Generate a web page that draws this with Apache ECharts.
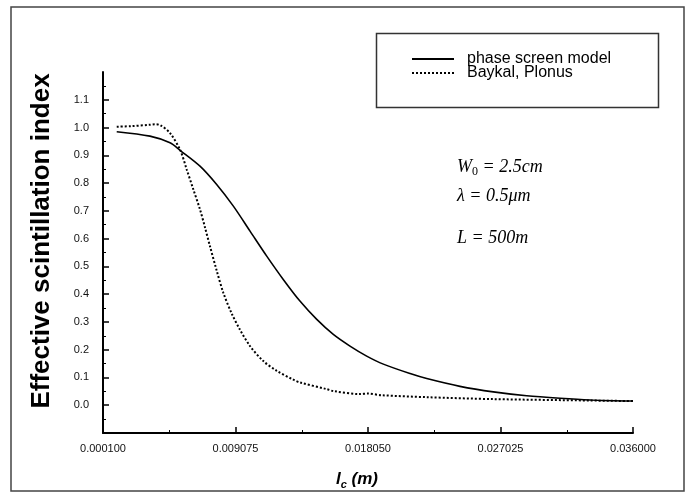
<!DOCTYPE html>
<html>
<head>
<meta charset="utf-8">
<script src="https://cdn.jsdelivr.net/npm/echarts@6/dist/echarts.min.js"></script>
<style>
  html, body { margin: 0; padding: 0; background: #fff; }
  #main { width: 691px; height: 498px; }
</style>
</head>
<body>
<div id="main"></div>
<script>
// values: [lc (m), effective scintillation index]
var phaseScreen = [
    [0.00103, 0.985], [0.00328, 0.969], [0.00464, 0.945], [0.00532, 0.918],
    [0.00667, 0.861], [0.00780, 0.795], [0.00893, 0.717], [0.01006, 0.627],
    [0.01119, 0.537], [0.01231, 0.453], [0.01344, 0.375], [0.01458, 0.309],
    [0.01570, 0.255], [0.01683, 0.213], [0.01796, 0.177], [0.01909, 0.148],
    [0.02090, 0.114], [0.02203, 0.096], [0.02428, 0.068],
    [0.02654, 0.048], [0.02880, 0.034], [0.03106, 0.025], [0.03309, 0.019],
    [0.03600, 0.015]
];
var baykalPlonus = [
    [0.00103, 1.003], [0.00200, 1.005], [0.00328, 1.010], [0.00362, 1.012],
    [0.00400, 1.008], [0.00464, 0.980], [0.00532, 0.920], [0.00577, 0.849],
    [0.00622, 0.777], [0.00667, 0.705], [0.00701, 0.640], [0.00735, 0.572],
    [0.00780, 0.485], [0.00825, 0.405], [0.00882, 0.330], [0.00938, 0.272],
    [0.01006, 0.213], [0.01096, 0.159], [0.01187, 0.124], [0.01299, 0.092],
    [0.01344, 0.082], [0.01525, 0.058], [0.01570, 0.051], [0.01751, 0.040],
    [0.01800, 0.042], [0.01900, 0.036], [0.02203, 0.029], [0.02654, 0.022],
    [0.03309, 0.017], [0.03600, 0.015]
];
var seriesNames = ['phase screen model', 'Baykal, Plonus'];
var xTickValues = [0.000100, 0.009075, 0.018050, 0.027025, 0.036000];
var yTickValues = [0.0, 0.1, 0.2, 0.3, 0.4, 0.5, 0.6, 0.7, 0.8, 0.9, 1.0, 1.1];

var xMinorTicks = [];
for (var i = 0; i < xTickValues.length - 1; i++) {
    xMinorTicks.push((xTickValues[i] + xTickValues[i + 1]) / 2);
}

var chart = echarts.init(document.getElementById('main'));

var axisLine = { show: true, onZero: false, lineStyle: { color: '#000', width: 2 } };

option = {
    animation: false,
    backgroundColor: '#fff',
    grid: { left: 103, right: 58, top: 72, bottom: 65 },
    legend: {
        orient: 'vertical',
        left: 406,
        top: 46,
        itemWidth: 42,
        itemHeight: 14,
        itemGap: -2,
        itemStyle: { opacity: 0 },
        textStyle: { fontFamily: 'Arial, Liberation Sans', fontSize: 16, lineHeight: 14, color: '#000', padding: [0, 0, 0, 8] },
        data: seriesNames
    },
    xAxis: [
        {
            type: 'value',
            min: 0.0001,
            max: 0.036,
            position: 'bottom',
            axisLine: axisLine,
            splitLine: { show: false },
            axisTick: { show: true, inside: true, length: 6, customValues: xTickValues,
                        lineStyle: { color: '#000', width: 1.5 } },
            axisLabel: {
                customValues: xTickValues,
                margin: 10,
                fontFamily: 'Arial, Liberation Sans',
                fontSize: 11,
                color: '#111',
                formatter: function (v) { return v.toFixed(6); }
            }
        },
        {
            type: 'value',
            min: 0.0001,
            max: 0.036,
            position: 'bottom',
            offset: 0,
            axisLine: { show: false, onZero: false },
            splitLine: { show: false },
            axisLabel: { show: false },
            axisTick: { show: true, inside: true, length: 3, customValues: xMinorTicks,
                        lineStyle: { color: '#000', width: 1 } }
        }
    ],
    yAxis: {
        type: 'value',
        min: -0.1,
        max: 1.2,
        interval: 0.1,
        axisLine: axisLine,
        splitLine: { show: false },
        axisTick: { show: true, inside: true, length: 6, customValues: yTickValues,
                    lineStyle: { color: '#000', width: 1.5 } },
        minorTick: { show: true, splitNumber: 2, length: 3, lineStyle: { color: '#000', width: 1 } },
        axisLabel: {
            customValues: yTickValues,
            margin: 14,
            fontFamily: 'Arial, Liberation Sans',
            fontSize: 11,
            color: '#111',
            formatter: function (v) { return v.toFixed(1); }
        }
    },
    graphic: [
        {
            type: 'rect',
            shape: { x: 11, y: 7, width: 673, height: 484 },
            style: { fill: 'none', stroke: '#444', lineWidth: 1.5 },
            silent: true
        },
        {
            type: 'rect',
            shape: { x: 376.5, y: 33.5, width: 282, height: 74 },
            style: { fill: 'none', stroke: '#333', lineWidth: 1.5 },
            silent: true
        },
        {
            type: 'text',
            x: 42,
            y: 241,
            rotation: Math.PI / 2,
            style: {
                text: 'Effective scintillation index',
                fontFamily: 'Arial, Liberation Sans',
                fontWeight: 'bold',
                fontSize: 26,
                fill: '#000',
                align: 'center',
                verticalAlign: 'middle'
            }
        },
        {
            type: 'text',
            x: 357,
            y: 479,
            style: {
                text: '{a|l}{b|c}{a| (m)}',
                align: 'center',
                verticalAlign: 'middle',
                rich: {
                    a: { fontFamily: 'Arial, Liberation Sans', fontWeight: 'bold', fontStyle: 'italic', fontSize: 17, fill: '#000' },
                    b: { fontFamily: 'Arial, Liberation Sans', fontWeight: 'bold', fontStyle: 'italic', fontSize: 11, fill: '#000', padding: [12, 0, 0, 0] }
                }
            }
        },
        {
            type: 'text',
            x: 457,
            y: 167,
            style: {
                text: '{i|W}{s|0}{i| = 2.5cm}',
                verticalAlign: 'middle',
                rich: {
                    i: { fontFamily: 'Liberation Serif, Times New Roman', fontStyle: 'italic', fontSize: 18, fill: '#000' },
                    s: { fontFamily: 'Liberation Serif, Times New Roman', fontSize: 12, fill: '#000', padding: [10, 0, 0, 0] }
                }
            }
        },
        {
            type: 'text',
            x: 457,
            y: 196,
            style: {
                text: 'λ = 0.5μm',
                verticalAlign: 'middle',
                fontFamily: 'Liberation Serif, Times New Roman',
                fontStyle: 'italic',
                fontSize: 18,
                fill: '#000'
            }
        },
        {
            type: 'text',
            x: 457,
            y: 238,
            style: {
                text: 'L = 500m',
                verticalAlign: 'middle',
                fontFamily: 'Liberation Serif, Times New Roman',
                fontStyle: 'italic',
                fontSize: 18,
                fill: '#000'
            }
        }
    ],
    series: [
        {
            name: seriesNames[0],
            type: 'line',
            symbol: 'none',
            smooth: 0.3,
            color: '#000',
            lineStyle: { color: '#000', width: 1.6 },
            data: phaseScreen
        },
        {
            name: seriesNames[1],
            type: 'line',
            symbol: 'none',
            smooth: 0.3,
            color: '#000',
            lineStyle: { color: '#000', width: 2, type: [2, 2] },
            data: baykalPlonus
        }
    ]
};

chart.setOption(option);
</script>
</body>
</html>
